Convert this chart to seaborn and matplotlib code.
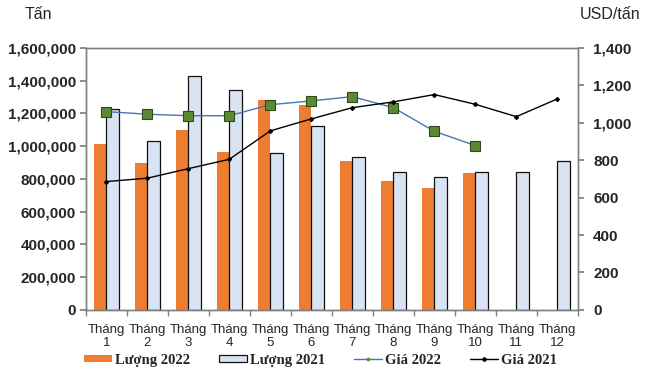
import matplotlib
matplotlib.use("Agg")
import matplotlib.pyplot as plt
import seaborn as sns
import pandas as pd
import numpy as np
from matplotlib.lines import Line2D
from matplotlib.patches import Patch

months = list(range(1, 13))
month_labels = [f"Tháng\n{m}" for m in months]
luong_2022 = [1015000, 895000, 1097000, 962000, 1280000, 1250000, 908000, 786000, 744000, 834000, np.nan, np.nan]
luong_2021 = [1226000, 1029000, 1429000, 1346000, 956000, 1124000, 935000, 840000, 813000, 840000, 840000, 907000]
gia_2022 = [1060, 1046, 1038, 1038, 1097, 1117, 1140, 1081, 955, 878, np.nan, np.nan]
gia_2021 = [686, 704, 755, 805, 957, 1021, 1081, 1112, 1151, 1099, 1033, 1128]

sns.set_theme(style="white")
plt.rcParams['font.family'] = ['Liberation Sans', 'DejaVu Sans']

df_bar = pd.DataFrame({
    "Tháng": months * 2,
    "Lượng": luong_2022 + luong_2021,
    "Loại": ["Lượng 2022"] * 12 + ["Lượng 2021"] * 12,
})
df_price = pd.DataFrame({"Tháng": months, "Giá 2022": gia_2022, "Giá 2021": gia_2021})

fig = plt.figure(figsize=(6.5, 3.84), dpi=100)
ax = fig.add_axes([0.132, 0.193, 0.757, 0.682])

orange = "#ed7d31"
lightblue = "#dae3f3"
sns.barplot(data=df_bar, x="Tháng", y="Lượng", hue="Loại", native_scale=True,
            palette={"Lượng 2022": orange, "Lượng 2021": lightblue},
            width=0.6, gap=0, ax=ax, legend=False, saturation=1)
for p in ax.containers[1]:
    p.set_edgecolor("#111111")
    p.set_linewidth(0.9)
for p in ax.containers[0]:
    p.set_edgecolor("none")

ax.set_xlim(0.5, 12.5)
ax.set_ylim(0, 1600000)
ax.set_yticks(np.arange(0, 1600001, 200000))
ax.set_yticklabels([f"{int(v):,}" for v in np.arange(0, 1600001, 200000)],
                   fontsize=11, fontweight="bold")
ax.set_xticks(months)
ax.set_xticklabels(month_labels, fontsize=9.5, linespacing=1.15)
ax.set_xticks(np.arange(0.5, 12.6, 1), minor=True)
ax.tick_params(axis="x", which="major", length=0, pad=10)
ax.tick_params(axis="x", which="minor", length=4, color="#808080", direction="out", bottom=True)
ax.tick_params(axis="y", length=4, color="#808080", direction="out", left=True, pad=3)
ax.set_xlabel("")
ax.set_ylabel("")
for s in ax.spines.values():
    s.set_color("#808080")
    s.set_linewidth(1)

ax2 = ax.twinx()
sns.lineplot(data=df_price, x="Tháng", y="Giá 2022", ax=ax2, color="#4a74b4", linewidth=1,
             marker="s", markersize=6.5, markerfacecolor="#5b8a33", markeredgecolor="#2d4a18",
             markeredgewidth=0.8)
sns.lineplot(data=df_price, x="Tháng", y="Giá 2021", ax=ax2, color="black", linewidth=1,
             marker="D", markersize=2.2, markeredgecolor="black")
ax2.set_ylim(0, 1400)
ax2.set_yticks(np.arange(0, 1401, 200))
ax2.set_yticklabels([f"{int(v):,}" for v in np.arange(0, 1401, 200)], fontsize=11, fontweight="bold")
ax2.tick_params(axis="y", length=4, color="#808080", direction="out", right=True, pad=7)
ax2.set_ylabel("")
ax2.set_xlabel("")
for s in ax2.spines.values():
    s.set_color("#808080")
    s.set_linewidth(1)
ax2.set_xlim(0.5, 12.5)

fig.text(0.038, 0.962, "Tấn", fontsize=11.5, ha="left", va="center")
fig.text(0.985, 0.962, "USD/tấn", fontsize=11.5, ha="right", va="center")

handles = [
    Patch(facecolor=orange, edgecolor="none"),
    Patch(facecolor=lightblue, edgecolor="#111111", linewidth=0.9),
    Line2D([], [], color="#4a74b4", linewidth=1, marker="s", markersize=2,
           markerfacecolor="#5b8a33", markeredgecolor="#5b8a33"),
    Line2D([], [], color="black", linewidth=1, marker="D", markersize=2),
]
labels = ["Lượng 2022", "Lượng 2021", "Giá 2022", "Giá 2021"]
fig.legend(handles, labels, loc="center", bbox_to_anchor=(0.493, 0.062), ncol=4, frameon=False,
           prop={"family": ["Liberation Serif"], "weight": "bold", "size": 10.5},
           handlelength=1.9, handleheight=0.45, handletextpad=0.2, columnspacing=2.0)

fig.savefig("out.png", dpi=100)
